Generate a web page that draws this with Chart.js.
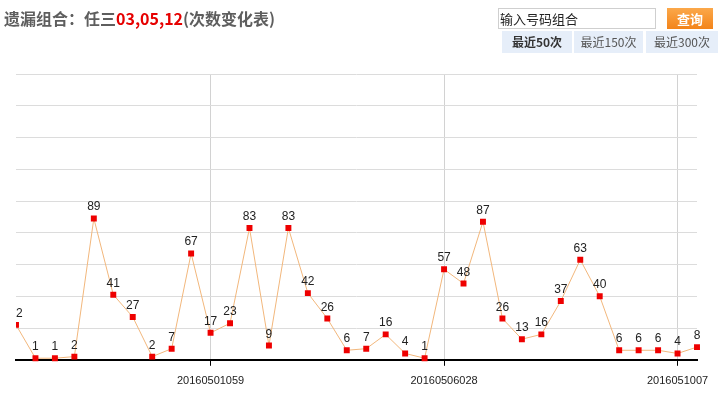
<!DOCTYPE html>
<html>
<head>
<meta charset="utf-8">
<script src="https://cdn.jsdelivr.net/npm/chart.js@4/dist/chart.umd.min.js"></script>
<style>
body { margin: 0; background: #fff; font-family: "Liberation Sans", Arial, sans-serif; }
#wrap { position: relative; width: 721px; height: 395px; overflow: hidden; }
#grafica { position: absolute; left: 0; top: 0; }
.titulo { position: absolute; left: 4px; top: 6px; font: bold 16px "Noto Sans CJK SC", sans-serif; color: #5e5e5e; line-height: 24px; white-space: nowrap; }
.titulo span { color: #e60000; }
.entrada { position: absolute; left: 498px; top: 8px; width: 155px; height: 19px; border: 1px solid #cfcfcf; font: 13px "Noto Sans CJK SC", sans-serif; line-height: 19px; color: #222; padding-left: 1px; }
.boton { position: absolute; left: 667px; top: 8px; width: 46px; height: 21px; background: linear-gradient(#fba84a, #f3841a); color: #fff; font: bold 13px "Noto Sans CJK SC", sans-serif; line-height: 21px; text-align: center; }
.tab { position: absolute; top: 31px; height: 22px; background: #e6eef9; font: 12px "Noto Sans CJK SC", sans-serif; line-height: 22px; text-align: center; color: #555; }
.tab.on { font-weight: bold; color: #333; }
</style>
</head>
<body>
<div id="wrap">
  <canvas id="grafica" width="721" height="397"></canvas>
  <div class="titulo">遗漏组合：任三<span>03,05,12</span>(次数变化表)</div>
  <div class="entrada">输入号码组合</div>
  <div class="boton">查询</div>
  <div class="tab on" style="left:502px;width:70px;">最近50次</div>
  <div class="tab" style="left:574px;width:69px;">最近150次</div>
  <div class="tab" style="left:646px;width:72px;">最近300次</div>
</div>
<script>
// periodos (solo se ven tres etiquetas en el eje)
const periodos = ['', '', '', '', '', '', '', '', '', '', '20160501059', '',
                  '', '', '', '', '', '', '', '', '', '', '20160506028', '',
                  '', '', '', '', '', '', '', '', '', '', '2016051007', ''];
// veces de omision
const omision = [22, 1, 1, 2, 89, 41, 27, 2, 7, 67, 17, 23,
                 83, 9, 83, 42, 26, 6, 7, 16, 4, 1, 57, 48,
                 87, 26, 13, 16, 37, 63, 40, 6, 6, 6, 4, 8];
const yMin = 0, yMax = 180, yPaso = 20;

const etiquetasValor = {
  id: 'etiquetasValor',
  afterDatasetsDraw(chart) {
    const ctx = chart.ctx;
    const area = chart.chartArea;
    const meta = chart.getDatasetMeta(0);
    ctx.save();
    ctx.beginPath();
    ctx.rect(area.left, 0, chart.width - area.left, chart.height);
    ctx.clip();
    ctx.font = '12px "Liberation Sans", Arial, sans-serif';
    ctx.fillStyle = '#222';
    ctx.textAlign = 'center';
    ctx.textBaseline = 'alphabetic';
    meta.data.forEach((p, i) => {
      ctx.fillText(String(omision[i]), p.x, p.y - 8);
    });
    ctx.restore();
  }
};

const grafica = document.getElementById('grafica');
const myChart = new Chart(grafica, {
  type: 'line',
  data: {
    labels: periodos,
    datasets: [{
      data: omision,
      borderColor: '#f2b77c',
      borderWidth: 1,
      pointStyle: 'rect',
      pointRadius: 4.2,
      pointBorderWidth: 0,
      pointBackgroundColor: '#ee0000',
      tension: 0,
      clip: { left: 0, top: 10, right: 10, bottom: 10 }
    }]
  },
  options: {
    responsive: false,
    animation: false,
    events: [],
    layout: { padding: { left: 16, right: 24, top: 74, bottom: 0 } },
    plugins: { legend: { display: false }, tooltip: { enabled: false } },
    scales: {
      x: {
        offset: false,
        grid: {
          color: c => periodos[c.index] ? '#d2d2d2' : 'rgba(0,0,0,0)',
          tickColor: c => periodos[c.index] ? '#000' : 'rgba(0,0,0,0)',
          tickLength: 6
        },
        border: { color: '#000', width: 2 },
        ticks: {
          autoSkip: false,
          maxRotation: 0,
          padding: 9,
          color: '#222',
          font: { family: '"Liberation Sans", Arial, sans-serif', size: 11 }
        }
      },
      y: {
        min: yMin,
        max: yMax,
        grid: { color: '#dcdcdc', drawTicks: false },
        border: { display: false },
        ticks: { display: false, stepSize: yPaso }
      }
    }
  },
  plugins: [etiquetasValor]
});
</script>
</body>
</html>
